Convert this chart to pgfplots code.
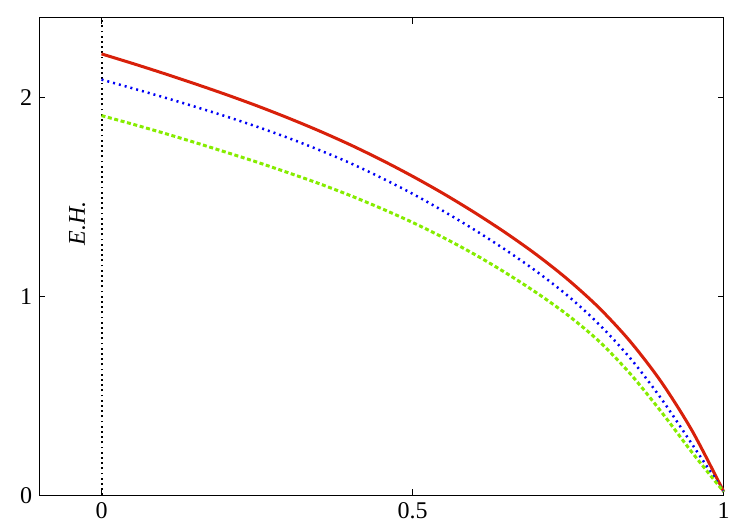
\documentclass[border=0pt]{standalone}
\usepackage{fontspec}
\setmainfont{Liberation Serif}
\usepackage{pgfplots}
\pgfplotsset{compat=1.18}
\definecolor{curvered}{HTML}{D8200A}
\definecolor{curveblue}{HTML}{0000F5}
\definecolor{curvegreen}{HTML}{86EC00}

\begin{document}
\begin{tikzpicture}
\begin{axis}[
  scale only axis,
  width=342.2pt,
  height=238.8pt,
  xmin=-0.1, xmax=1,
  ymin=0, ymax=2.4,
  xtick={0,0.5,1},
  ytick={0,1,2},
  xticklabels={0,0.5,1},
  tick align=inside,
  xtick pos=both,
  ytick pos=both,
  major tick length=3pt,
  tick style={black, line width=0.6pt},
  axis line style={black, line width=0.7pt},
  tick label style={font=\fontsize{12}{14}\selectfont},
  /pgf/number format/assume math mode=true,
  clip=false,
]
% event horizon marker
\addplot[black, line width=1pt, dash pattern=on 0.9pt off 1.7pt] coordinates {(0,0) (0,2.4)};
\node[rotate=90, font=\fontsize{12}{14}\selectfont\itshape] at (axis cs:-0.039,1.367) {E.H.};

% red, solid
\addplot[curvered, line width=1.5pt, smooth] coordinates {
(0,2.218) (0.05,2.170) (0.1,2.120) (0.15,2.068) (0.2,2.014) (0.25,1.957)
(0.3,1.896) (0.35,1.831) (0.4,1.761) (0.45,1.685) (0.5,1.603) (0.55,1.515)
(0.6,1.420) (0.65,1.318) (0.7,1.207) (0.75,1.083) (0.8,0.941) (0.85,0.772)
(0.9,0.568) (0.95,0.320) (1.0,0.018)};

% blue, dotted
\addplot[curveblue, line width=1.25pt, dash pattern=on 1pt off 2pt, smooth] coordinates {
(0,2.089) (0.05,2.045) (0.1,2.000) (0.15,1.953) (0.2,1.904) (0.25,1.852)
(0.3,1.796) (0.35,1.735) (0.4,1.669) (0.45,1.595) (0.5,1.515) (0.55,1.427)
(0.6,1.333) (0.65,1.232) (0.7,1.123) (0.75,1.001) (0.8,0.858) (0.85,0.688)
(0.9,0.484) (0.95,0.253) (1.0,0.018)};

% green, dashed
\addplot[curvegreen, line width=1.5pt, dash pattern=on 2pt off 1.3pt, smooth] coordinates {
(0,1.908) (0.05,1.865) (0.1,1.820) (0.15,1.773) (0.2,1.724) (0.25,1.674)
(0.3,1.621) (0.35,1.566) (0.4,1.506) (0.45,1.441) (0.5,1.371) (0.55,1.294)
(0.6,1.210) (0.65,1.117) (0.7,1.016) (0.75,0.904) (0.8,0.773) (0.85,0.610)
(0.9,0.418) (0.95,0.212) (1.0,0.018)};
\end{axis}
\path (current axis.south west) ++(-19.65pt,-14.85pt) (current axis.north east) ++(13.15pt,8.85pt);
\end{tikzpicture}
\end{document}
